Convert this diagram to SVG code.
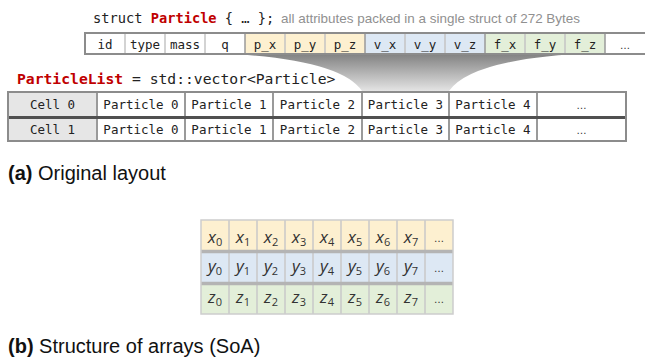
<svg xmlns="http://www.w3.org/2000/svg" width="645" height="363" viewBox="0 0 645 363">
<style>
.mono{font-family:"DejaVu Sans Mono","Liberation Mono",monospace;fill:#222}
.cell{font-size:12.5px;text-anchor:middle}
.red{fill:#c00000;font-weight:bold}
.cap{font-family:"Liberation Sans",Arial,sans-serif;font-size:20px;fill:#111}
.soa{font-family:"Open Sans","DejaVu Sans",sans-serif;font-style:italic;font-size:17px;fill:#333;text-anchor:middle}
.sub{font-size:11px;font-style:normal}
.dots{font-family:"DejaVu Sans",sans-serif;font-size:10px;fill:#333;text-anchor:middle}
.sep{stroke:#c4c4c4;stroke-width:1.5}
.gsep{stroke:#9a9a9a;stroke-width:1.5}
.yel{fill:#fdf0d0}.blu{fill:#dde8f4}.grn{fill:#e3efd9}
</style>
<defs>
<linearGradient id="fun" x1="0" y1="53" x2="0" y2="91" gradientUnits="userSpaceOnUse">
<stop offset="0" stop-color="#7f7f7f"/>
<stop offset="1" stop-color="#e4e4e4"/>
</linearGradient>
</defs>

<!-- funnel -->
<g id="connectors">
<path d="M215,53 Q340,58 362,91 L449,91 Q472,58 595,53 Z" fill="url(#fun)"/>
</g>

<!-- struct title -->
<g id="struct-title">
<text class="mono" x="93" y="23" font-size="13.7">struct <tspan class="red">Particle</tspan> { … };</text>
<text x="281" y="23" font-family="'Liberation Sans',Arial,sans-serif" font-size="13.5" fill="#909090" textLength="299" lengthAdjust="spacingAndGlyphs">all attributes packed in a single struct of 272 Bytes</text>
</g>

<!-- struct row -->
<g id="struct-row">
<rect x="85" y="33" width="565" height="21" fill="#fff"/>
<rect class="yel" x="245" y="33" width="120" height="21"/>
<rect class="blu" x="365" y="33" width="120" height="21"/>
<rect class="grn" x="485" y="33" width="120" height="21"/>
<line class="sep" x1="125" y1="33" x2="125" y2="54"/>
<line class="sep" x1="165" y1="33" x2="165" y2="54"/>
<line class="sep" x1="205" y1="33" x2="205" y2="54"/>
<line class="gsep" x1="245" y1="33" x2="245" y2="54"/>
<line class="sep" x1="285" y1="33" x2="285" y2="54"/>
<line class="sep" x1="325" y1="33" x2="325" y2="54"/>
<line class="gsep" x1="365" y1="33" x2="365" y2="54"/>
<line class="sep" x1="405" y1="33" x2="405" y2="54"/>
<line class="sep" x1="445" y1="33" x2="445" y2="54"/>
<line class="gsep" x1="485" y1="33" x2="485" y2="54"/>
<line class="sep" x1="525" y1="33" x2="525" y2="54"/>
<line class="sep" x1="565" y1="33" x2="565" y2="54"/>
<line class="gsep" x1="605" y1="33" x2="605" y2="54"/>
<rect x="85" y="33" width="565" height="21" fill="none" stroke="#8c8c8c" stroke-width="2"/>
<g class="mono cell">
<text x="105" y="48.5">id</text>
<text x="145" y="48.5">type</text>
<text x="185" y="48.5">mass</text>
<text x="225" y="48.5">q</text>
<text x="265" y="48.5">p_x</text>
<text x="305" y="48.5">p_y</text>
<text x="345" y="48.5">p_z</text>
<text x="385" y="48.5">v_x</text>
<text x="425" y="48.5">v_y</text>
<text x="465" y="48.5">v_z</text>
<text x="505" y="48.5">f_x</text>
<text x="545" y="48.5">f_y</text>
<text x="585" y="48.5">f_z</text>
</g>
<text class="dots" x="625" y="48.5">…</text>
</g>

<!-- ParticleList title -->
<g id="particlelist-title">
<text class="mono" x="17" y="84" font-size="14.7"><tspan class="red">ParticleList</tspan> = std::vector&lt;Particle&gt;</text>
</g>

<!-- cell table -->
<g id="cell-table">
<rect x="8" y="92" width="618" height="49" fill="#fff"/>
<rect x="8" y="92" width="89" height="49" fill="#e6e6e6"/>
<g stroke="#9a9a9a" stroke-width="2">
<line x1="97" y1="92" x2="97" y2="141"/>
<line x1="185" y1="92" x2="185" y2="141"/>
<line x1="273" y1="92" x2="273" y2="141"/>
<line x1="362" y1="92" x2="362" y2="141"/>
<line x1="449" y1="92" x2="449" y2="141"/>
<line x1="537" y1="92" x2="537" y2="141"/>
</g>
<line x1="8" y1="117.5" x2="626" y2="117.5" stroke="#505050" stroke-width="3"/>
<rect x="8" y="92" width="618" height="49" fill="none" stroke="#8c8c8c" stroke-width="2"/>
<g class="mono cell">
<text x="52.5" y="109">Cell 0</text>
<text x="141" y="109">Particle 0</text>
<text x="229" y="109">Particle 1</text>
<text x="317.5" y="109">Particle 2</text>
<text x="405.5" y="109">Particle 3</text>
<text x="493" y="109">Particle 4</text>
<text x="52.5" y="134">Cell 1</text>
<text x="141" y="134">Particle 0</text>
<text x="229" y="134">Particle 1</text>
<text x="317.5" y="134">Particle 2</text>
<text x="405.5" y="134">Particle 3</text>
<text x="493" y="134">Particle 4</text>
</g>
<text class="dots" x="581.5" y="109">…</text>
<text class="dots" x="581.5" y="134">…</text>
</g>

<!-- caption a -->
<g id="caption-a">
<text class="cap" x="8" y="180"><tspan font-weight="bold">(a)</tspan> Original layout</text>
</g>

<!-- SoA grid -->
<g id="soa-grid">
<rect class="yel" x="201" y="220" width="252" height="30"/>
<rect class="blu" x="201" y="253" width="252" height="29"/>
<rect class="grn" x="201" y="285" width="252" height="29"/>
<g stroke="#c8c8c8" stroke-width="1.5">
<line x1="229" y1="220" x2="229" y2="314"/>
<line x1="257" y1="220" x2="257" y2="314"/>
<line x1="285" y1="220" x2="285" y2="314"/>
<line x1="313" y1="220" x2="313" y2="314"/>
<line x1="341" y1="220" x2="341" y2="314"/>
<line x1="369" y1="220" x2="369" y2="314"/>
<line x1="397" y1="220" x2="397" y2="314"/>
<line x1="425" y1="220" x2="425" y2="314"/>
</g>
<g stroke="#b4b4b4" stroke-width="3.5">
<line x1="201" y1="251.5" x2="453" y2="251.5"/>
<line x1="201" y1="283.5" x2="453" y2="283.5"/>
</g>
<rect x="201" y="220" width="252" height="94" fill="none" stroke="#cdcdcd" stroke-width="1.5"/>
<g class="soa">
<text x="215" y="243">x<tspan class="sub" dy="2.5">0</tspan></text>
<text x="243" y="243">x<tspan class="sub" dy="2.5">1</tspan></text>
<text x="271" y="243">x<tspan class="sub" dy="2.5">2</tspan></text>
<text x="299" y="243">x<tspan class="sub" dy="2.5">3</tspan></text>
<text x="327" y="243">x<tspan class="sub" dy="2.5">4</tspan></text>
<text x="355" y="243">x<tspan class="sub" dy="2.5">5</tspan></text>
<text x="383" y="243">x<tspan class="sub" dy="2.5">6</tspan></text>
<text x="411" y="243">x<tspan class="sub" dy="2.5">7</tspan></text>
<text x="215" y="272">y<tspan class="sub" dy="2.5">0</tspan></text>
<text x="243" y="272">y<tspan class="sub" dy="2.5">1</tspan></text>
<text x="271" y="272">y<tspan class="sub" dy="2.5">2</tspan></text>
<text x="299" y="272">y<tspan class="sub" dy="2.5">3</tspan></text>
<text x="327" y="272">y<tspan class="sub" dy="2.5">4</tspan></text>
<text x="355" y="272">y<tspan class="sub" dy="2.5">5</tspan></text>
<text x="383" y="272">y<tspan class="sub" dy="2.5">6</tspan></text>
<text x="411" y="272">y<tspan class="sub" dy="2.5">7</tspan></text>
<text x="215" y="303">z<tspan class="sub" dy="2.5">0</tspan></text>
<text x="243" y="303">z<tspan class="sub" dy="2.5">1</tspan></text>
<text x="271" y="303">z<tspan class="sub" dy="2.5">2</tspan></text>
<text x="299" y="303">z<tspan class="sub" dy="2.5">3</tspan></text>
<text x="327" y="303">z<tspan class="sub" dy="2.5">4</tspan></text>
<text x="355" y="303">z<tspan class="sub" dy="2.5">5</tspan></text>
<text x="383" y="303">z<tspan class="sub" dy="2.5">6</tspan></text>
<text x="411" y="303">z<tspan class="sub" dy="2.5">7</tspan></text>
</g>
<text class="dots" x="439" y="242">…</text>
<text class="dots" x="439" y="272">…</text>
<text class="dots" x="439" y="303">…</text>
</g>

<!-- caption b -->
<g id="caption-b">
<text class="cap" x="8" y="353"><tspan font-weight="bold">(b)</tspan> Structure of arrays (SoA)</text>
</g>
</svg>
